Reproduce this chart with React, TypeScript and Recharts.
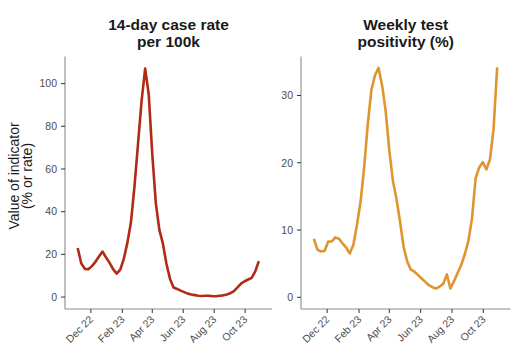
import React from "react";
import { LineChart, Line, XAxis, YAxis } from "recharts";

// weekly reporting dates
const weekDates = [
  "2022-11-05", "2022-11-12", "2022-11-19", "2022-11-26",
  "2022-12-03", "2022-12-10", "2022-12-17", "2022-12-24", "2022-12-31",
  "2023-01-07", "2023-01-14", "2023-01-21", "2023-01-28",
  "2023-02-04", "2023-02-11", "2023-02-18", "2023-02-25",
  "2023-03-04", "2023-03-11", "2023-03-18", "2023-03-25",
  "2023-04-01", "2023-04-08", "2023-04-15", "2023-04-22", "2023-04-29",
  "2023-05-06", "2023-05-13", "2023-05-20", "2023-05-27",
  "2023-06-03", "2023-06-10", "2023-06-17", "2023-06-24",
  "2023-07-01", "2023-07-08", "2023-07-15", "2023-07-22", "2023-07-29",
  "2023-08-05", "2023-08-12", "2023-08-19", "2023-08-26",
  "2023-09-02", "2023-09-09", "2023-09-16", "2023-09-23", "2023-09-30",
  "2023-10-07", "2023-10-14", "2023-10-21", "2023-10-28",
];

// 14-day case rate per 100k
const caseRate = [
  23, 15.8, 13.2, 13, 14.5, 16.5, 19, 21.3, 18.5, 16,
  13, 11, 12.8, 18, 25.5, 35, 52, 72, 92, 107,
  95, 67, 44, 31.5, 25, 15.5, 8.5, 4.5, 3.8, 3,
  2.3, 1.6, 1.2, 0.9, 0.6, 0.5, 0.6, 0.6, 0.4, 0.4,
  0.6, 0.8, 1.2, 1.8, 2.8, 4.5, 6.3, 7.4, 8.2, 9,
  12, 16.8,
];

// weekly test positivity (%)
const testPositivity = [
  8.7, 7.1, 6.8, 6.9, 8.3, 8.3, 8.9, 8.7, 8.0, 7.4,
  6.5, 7.8, 10.8, 14.2, 19.3, 25.7, 30.8, 33, 34.1, 31.5,
  27.6, 21.8, 17.3, 14.6, 11.2, 7.4, 5.3, 4.1, 3.8, 3.3,
  2.8, 2.3, 1.8, 1.5, 1.3, 1.6, 2, 3.4, 1.3, 2.4,
  3.6, 4.8, 6.4, 8.4, 11.7, 17.7, 19.3, 20.1, 19, 20.5,
  25, 34.2,
];

const tickDates = ["2022-12-01", "2023-02-01", "2023-04-01", "2023-06-01", "2023-08-01", "2023-10-01"];
const tickLabels = ["Dec 22", "Feb 23", "Apr 23", "Jun 23", "Aug 23", "Oct 23"];
const caseTicks = [0, 20, 40, 60, 80, 100];
const positivityTicks = [0, 10, 20, 30];

const toMs = (d: string) => Date.parse(d + "T00:00:00Z");
const xTicks = tickDates.map(toMs);
const xDomain = [toMs("2022-10-11"), toMs("2023-11-23")];

const caseData = weekDates.map((d, i) => ({ t: toMs(d), value: caseRate[i] }));
const positivityData = weekDates.map((d, i) => ({ t: toMs(d), value: testPositivity[i] }));

const AXIS = "#8c8c8c";
const TICK_TEXT = "#4d4d4d";

function DateTick({ x, y, payload }: any) {
  const label = tickLabels[xTicks.indexOf(payload.value)];
  const ax = x + 3;
  const ay = y + 5;
  return (
    <text
      x={ax}
      y={ay}
      textAnchor="end"
      fontSize={10.5}
      fill={TICK_TEXT}
      transform={`rotate(-45 ${ax} ${ay})`}
    >
      {label}
    </text>
  );
}

function Panel({
  data,
  color,
  domain,
  ticks,
  width,
  yWidth,
  right,
}: {
  data: { t: number; value: number }[];
  color: string;
  domain: number[];
  ticks: number[];
  width: number;
  yWidth: number;
  right: number;
}) {
  return (
    <LineChart width={width} height={352} data={data} margin={{ top: 56.5, right, bottom: 0, left: 0 }}>
      <XAxis
        dataKey="t"
        type="number"
        domain={xDomain}
        ticks={xTicks}
        allowDataOverflow
        height={43}
        tickSize={4}
        tickMargin={2}
        axisLine={{ stroke: AXIS, strokeWidth: 1.1 }}
        tickLine={{ stroke: "#333" }}
        tick={<DateTick />}
        interval={0}
      />
      <YAxis
        type="number"
        domain={domain}
        ticks={ticks}
        allowDataOverflow
        width={yWidth}
        tickSize={4}
        tickMargin={4}
        axisLine={{ stroke: AXIS, strokeWidth: 1.1 }}
        tickLine={{ stroke: "#333" }}
        tick={{ fontSize: 10.5, fill: TICK_TEXT }}
        interval={0}
      />
      <Line
        type="linear"
        dataKey="value"
        stroke={color}
        strokeWidth={2.6}
        strokeLinejoin="round"
        dot={false}
        isAnimationActive={false}
      />
    </LineChart>
  );
}

export default function App() {
  return (
    <div
      style={{
        position: "absolute",
        left: 0,
        top: 0,
        width: 513,
        height: 352,
        background: "#fff",
        fontFamily: "'Liberation Sans', Arial, sans-serif",
      }}
    >
      <div style={{ position: "absolute", left: 0, top: 0 }}>
        <Panel data={caseData} color="#b02a16" domain={[-5.6, 112.7]} ticks={caseTicks} width={280} yWidth={65} right={8} />
      </div>
      <div style={{ position: "absolute", left: 270, top: 0 }}>
        <Panel data={positivityData} color="#df952f" domain={[-1.74, 35.8]} ticks={positivityTicks} width={243} yWidth={31} right={2.5} />
      </div>
      <svg width={513} height={352} style={{ position: "absolute", left: 0, top: 0, pointerEvents: "none" }}>
        <g fontSize={15.5} fontWeight="bold" fill="#1a1a1a" textAnchor="middle">
          <text x={168.5} y={29.5}>14-day case rate</text>
          <text x={168.5} y={46.5}>per 100k</text>
          <text x={405.7} y={29.5}>Weekly test</text>
          <text x={405.7} y={46.5}>positivity (%)</text>
        </g>
        <g fontSize={14} fill="#1a1a1a" textAnchor="middle">
          <text x={19} y={176} transform="rotate(-90 19 176)">Value of indicator</text>
          <text x={31.5} y={176} transform="rotate(-90 31.5 176)">(% or rate)</text>
        </g>
      </svg>
    </div>
  );
}
